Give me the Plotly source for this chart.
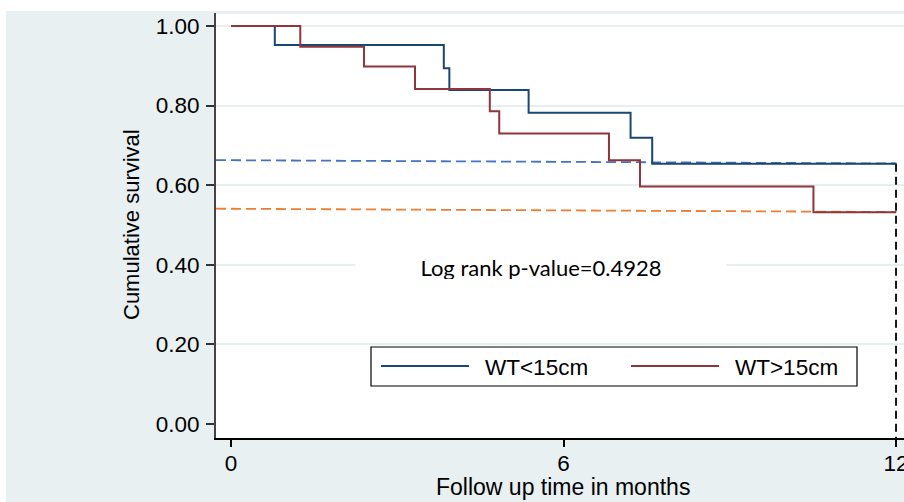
import plotly.graph_objects as go

# ---- data ----
blue_time = [0, 0.79, 3.84, 3.94, 5.37, 7.21, 7.60, 12]
blue_surv = [1.0, 0.952, 0.894, 0.839, 0.782, 0.719, 0.654, 0.654]
red_time = [0, 1.25, 2.40, 3.32, 4.67, 4.84, 6.82, 7.38, 10.51, 12]
red_surv = [1.0, 0.948, 0.898, 0.842, 0.786, 0.730, 0.663, 0.597, 0.532, 0.532]

trend_x = [-0.271, 12.01]
blue_trend_y = [0.663, 0.6545]
orange_trend_y = [0.541, 0.5327]

end_x = [12, 12]
end_y = [0.654, -0.04]

x_ticks = [0, 6, 12]
y_ticks = [0.0, 0.2, 0.4, 0.6, 0.8, 1.0]
y_tick_labels = ["0.00", "0.20", "0.40", "0.60", "0.80", "1.00"]

series_names = ["WT<15cm", "WT>15cm"]
pvalue_text = "Log rank p-value=0.4928"

BLUE = "#1a476f"
RED = "#90353b"
GRID = "#e6eef0"
BG = "#e8f0f2"
FONT = "Liberation Sans, Arial, sans-serif"

fig = go.Figure()

fig.add_trace(go.Scatter(x=trend_x, y=blue_trend_y, mode="lines",
                         line=dict(color="#4472c4", width=1.8, dash="10px,5px"),
                         showlegend=False, hoverinfo="skip"))
fig.add_trace(go.Scatter(x=trend_x, y=orange_trend_y, mode="lines",
                         line=dict(color="#ed7d31", width=1.8, dash="10px,5px"),
                         showlegend=False, hoverinfo="skip"))
fig.add_trace(go.Scatter(x=end_x, y=end_y, mode="lines",
                         line=dict(color="black", width=1.8, dash="8px,5px"),
                         showlegend=False, hoverinfo="skip"))
fig.add_trace(go.Scatter(x=blue_time, y=blue_surv, mode="lines", line_shape="hv",
                         line=dict(color=BLUE, width=2), name=series_names[0],
                         showlegend=False))
fig.add_trace(go.Scatter(x=red_time, y=red_surv, mode="lines", line_shape="hv",
                         line=dict(color=RED, width=2), name=series_names[1],
                         showlegend=False))

W, H = 904, 502
ml, mr, mt, mb = 216, 0, 13, 64
pw, ph = W - ml - mr, H - mt - mb


def px_x(p):
    return (p - ml) / pw


def px_y(p):
    return (H - mb - p) / ph


shapes = [
    # white strips outside the bluish panel
    dict(type="rect", xref="paper", yref="paper", x0=px_x(0), x1=px_x(W), y0=px_y(11), y1=px_y(0),
         fillcolor="white", line=dict(width=0), layer="above"),
    dict(type="rect", xref="paper", yref="paper", x0=px_x(0), x1=px_x(6), y0=px_y(H), y1=px_y(0),
         fillcolor="white", line=dict(width=0), layer="above"),
    # top border of plot region
    dict(type="line", xref="paper", yref="paper", x0=0, x1=1, y0=1, y1=1,
         line=dict(color=GRID, width=1.5), layer="below"),
    # legend box
    dict(type="rect", xref="paper", yref="paper", x0=px_x(371), x1=px_x(857),
         y0=px_y(386), y1=px_y(347), fillcolor="white", line=dict(color="black", width=1.2),
         layer="above"),
    dict(type="line", xref="paper", yref="paper", x0=px_x(381), x1=px_x(469),
         y0=px_y(366), y1=px_y(366), line=dict(color=BLUE, width=2), layer="above"),
    dict(type="line", xref="paper", yref="paper", x0=px_x(631), x1=px_x(719),
         y0=px_y(366), y1=px_y(366), line=dict(color=RED, width=2), layer="above"),
]

annotations = [
    dict(xref="paper", yref="paper", x=px_x(483), y=px_y(367), xanchor="left", yanchor="middle",
         text=series_names[0], showarrow=False, font=dict(family=FONT, size=22.5, color="black")),
    dict(xref="paper", yref="paper", x=px_x(733), y=px_y(367), xanchor="left", yanchor="middle",
         text=series_names[1], showarrow=False, font=dict(family=FONT, size=22.5, color="black")),
    dict(xref="paper", yref="paper", x=px_x(541), y=px_y(267), xanchor="center", yanchor="middle",
         text=pvalue_text, showarrow=False, bgcolor="white", width=366, height=24, borderpad=2,
         font=dict(family="Lato, Carlito, sans-serif", size=22, color="black")),
    # axis titles
    dict(xref="paper", yref="paper", x=px_x(563), y=px_y(487), xanchor="center", yanchor="middle",
         text="Follow up time in months", showarrow=False,
         font=dict(family=FONT, size=23, color="black")),
    dict(xref="paper", yref="paper", x=px_x(132), y=px_y(225), xanchor="center", yanchor="middle",
         text="Cumulative survival", showarrow=False, textangle=-90,
         font=dict(family=FONT, size=22, color="black")),
]

fig.update_layout(
    template="none",
    width=W, height=H,
    margin=dict(l=ml, r=mr, t=mt, b=mb, autoexpand=False),
    paper_bgcolor=BG,
    plot_bgcolor="white",
    font=dict(family=FONT, size=22, color="black"),
    shapes=shapes,
    annotations=annotations,
    showlegend=False,
)

fig.update_xaxes(
    automargin=False,
    range=[-0.271, 12.144],
    tickvals=x_ticks, ticktext=[str(v) for v in x_ticks],
    ticks="outside", ticklen=7, tickwidth=1.5, tickcolor="black",
    showline=True, linecolor="black", linewidth=1.5,
    showgrid=False, zeroline=False,
    ticklabelstandoff=-3, ticklabeloverflow="allow",
    tickfont=dict(size=22.5),
)
fig.update_yaxes(
    automargin=False,
    range=[-0.0352, 1.0327],
    tickvals=y_ticks, ticktext=y_tick_labels,
    ticks="outside", ticklen=8, tickwidth=1.5, tickcolor="#333333",
    showline=True, linecolor="#444444", linewidth=2,
    showgrid=True, gridcolor=GRID, gridwidth=1.5,
    zeroline=True, zerolinecolor="white", zerolinewidth=1.5,
    ticklabelstandoff=2,
    tickfont=dict(size=22.5),
)

fig.write_html(
    "out.html",
    config={"displayModeBar": False},
    post_script="document.body.style.margin='0';document.body.style.overflow='hidden';",
)
